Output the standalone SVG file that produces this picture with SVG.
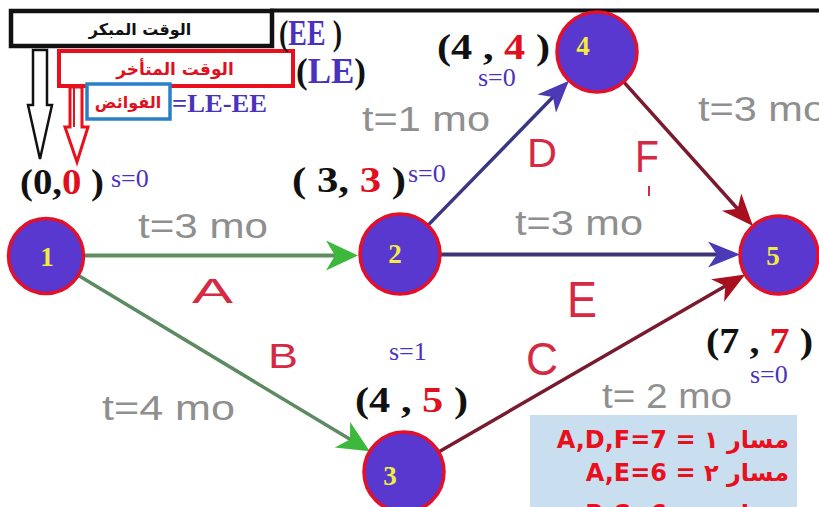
<svg xmlns="http://www.w3.org/2000/svg" width="819" height="507" viewBox="0 0 819 507">
<style>
.node{fill:#5838cf;stroke:#e2102a;stroke-width:3.5}
.nl{font-family:"Liberation Serif",serif;font-weight:bold;font-size:27px;fill:#f0ee3a;text-anchor:middle}
.co{font-family:"Liberation Serif",serif;font-weight:bold;font-size:36px;fill:#111}
.red{fill:#e01020}
.pur{fill:#4a32c0}
.s{font-family:"Liberation Serif",serif;font-size:26px;fill:#4a32c0}
.t{font-family:"Liberation Sans",sans-serif;font-size:35px;fill:#8f8f8f}
.L{font-family:"Liberation Sans",sans-serif;fill:#d42a44}
.ar{font-family:"DejaVu Sans",sans-serif;font-weight:bold;text-anchor:middle}
.info{font-family:"DejaVu Sans",sans-serif;font-weight:bold;font-size:24px;fill:#e8101c}
</style>
<defs>
<marker id="hg" markerUnits="userSpaceOnUse" markerWidth="34" markerHeight="32" refX="22" refY="15" orient="auto"><path d="M0,0 L32,15 L0,30 L9,15 Z" fill="#3cb83c"/></marker>
<marker id="hp" markerUnits="userSpaceOnUse" markerWidth="34" markerHeight="32" refX="22" refY="15" orient="auto"><path d="M0,2 L32,15 L0,28 L9,15 Z" fill="#4a3ab5"/></marker>
<marker id="hr" markerUnits="userSpaceOnUse" markerWidth="34" markerHeight="32" refX="22" refY="15" orient="auto"><path d="M0,2 L32,15 L0,28 L9,15 Z" fill="#a8101e"/></marker>
</defs>
<rect width="819" height="507" fill="#fff"/>

<g id="legend">
<line x1="270" y1="10.5" x2="819" y2="10.5" stroke="#111" stroke-width="4"/>
<rect x="11" y="11" width="261" height="35" fill="#fff" stroke="#111" stroke-width="4.5"/>
<text class="ar" x="140" y="35" font-size="16" fill="#111" direction="rtl">الوقت المبكر</text>
<rect x="59" y="51" width="234" height="35" fill="#fff" stroke="#e8101c" stroke-width="4"/>
<text class="ar" x="175" y="75" font-size="17" fill="#e01020" direction="rtl">الوقت المتأخر</text>
<rect x="87" y="84" width="83" height="35" fill="#fff" stroke="#2a80c8" stroke-width="3.5"/>
<text class="ar" x="128" y="108" font-size="16" fill="#e01020" direction="rtl">الفوائض</text>
<text x="172" y="112" font-family="Liberation Serif,serif" font-weight="bold" font-size="25" fill="#4a32c0" textLength="95" lengthAdjust="spacingAndGlyphs">=LE-EE</text>
<text x="279" y="45" class="co" font-size="31px" textLength="63" lengthAdjust="spacingAndGlyphs">(<tspan class="pur">EE</tspan> )</text>
<text x="296" y="83" class="co" font-size="35px" textLength="70" lengthAdjust="spacingAndGlyphs">(<tspan class="pur">LE</tspan>)</text>
<path d="M33,50 L47,50 L47,105 L52,105 L40,159 L28,105 L33,105 Z" fill="#fff" stroke="#111" stroke-width="2.5"/>
<path d="M70,87 L82,87 L82,127 L88,127 L77,162 L65,127 L70,127 Z" fill="#fff" stroke="#e8101c" stroke-width="3"/>
<line x1="74" y1="88" x2="74" y2="127" stroke="#e8101c" stroke-width="2"/>
</g>

<g id="connectors">
<line x1="84" y1="255.5" x2="348" y2="255.5" stroke="#5f8f5f" stroke-width="4" marker-end="url(#hg)"/>
<line x1="78.5" y1="275.6" x2="361.2" y2="446.1" stroke="#5d8a62" stroke-width="3.5" marker-end="url(#hg)"/>
<line x1="427.9" y1="225.4" x2="562" y2="87.8" stroke="#3a3585" stroke-width="3.5" marker-end="url(#hp)"/>
<line x1="440" y1="254.5" x2="730" y2="254.5" stroke="#3d3575" stroke-width="4" marker-end="url(#hp)"/>
<line x1="623.7" y1="81.8" x2="746.3" y2="218.5" stroke="#7a1a30" stroke-width="3.5" marker-end="url(#hr)"/>
<line x1="438.6" y1="452" x2="736.6" y2="279.5" stroke="#7a1a30" stroke-width="3.5" marker-end="url(#hr)"/>
</g>

<g id="edge-labels">
<text class="t" x="138" y="238" textLength="130" lengthAdjust="spacingAndGlyphs">t=3 mo</text>
<text class="t" x="102" y="420" textLength="133" lengthAdjust="spacingAndGlyphs">t=4 mo</text>
<text class="t" x="515" y="235" textLength="128" lengthAdjust="spacingAndGlyphs">t=3 mo</text>
<text class="t" x="602" y="408" textLength="130" lengthAdjust="spacingAndGlyphs">t= 2 mo</text>
<text class="t" x="362" y="131" textLength="128" lengthAdjust="spacingAndGlyphs">t=1 mo</text>
<text class="t" x="698" y="121" textLength="128" lengthAdjust="spacingAndGlyphs">t=3 mo</text>
<text class="L" x="192" y="303" font-size="35" textLength="41" lengthAdjust="spacingAndGlyphs">A</text>
<text class="L" x="268" y="368" font-size="35" textLength="30" lengthAdjust="spacingAndGlyphs">B</text>
<text class="L" x="527" y="167" font-size="40" textLength="30" lengthAdjust="spacingAndGlyphs">D</text>
<text class="L" x="635" y="172" font-size="44" textLength="24" lengthAdjust="spacingAndGlyphs">F</text>
<line x1="649" y1="186" x2="649" y2="196" stroke="#d42a44" stroke-width="2"/>
<text class="L" x="567" y="317" font-size="50" textLength="30" lengthAdjust="spacingAndGlyphs">E</text>
<text class="L" x="526" y="375" font-size="46" textLength="32" lengthAdjust="spacingAndGlyphs">C</text>
</g>

<g id="node1">
<circle class="node" cx="46" cy="256" r="37.5"/>
<text class="nl" x="47" y="266">1</text>
<text class="co" x="20" y="194" textLength="84" lengthAdjust="spacingAndGlyphs">(0,<tspan class="red">0</tspan> )</text>
<text class="s" x="111" y="187">s=0</text>
</g>
<g id="node2">
<circle class="node" cx="400" cy="254" r="40"/>
<text class="nl" x="395" y="263">2</text>
<text class="co" x="292" y="192" textLength="114" lengthAdjust="spacingAndGlyphs">( 3, <tspan class="red">3</tspan> )</text>
<text class="s" x="408" y="182" font-size="25px">s=0</text>
</g>
<g id="node3">
<circle class="node" cx="404" cy="472" r="40"/>
<text class="nl" x="390" y="485">3</text>
<text class="co" x="355" y="412" textLength="113" lengthAdjust="spacingAndGlyphs">(4 , <tspan class="red">5</tspan> )</text>
<text class="s" x="389" y="360" font-size="25px">s=1</text>
</g>
<g id="node4">
<circle class="node" cx="597" cy="52" r="40"/>
<text class="nl" x="583" y="55">4</text>
<text class="co" x="437" y="59" textLength="113" lengthAdjust="spacingAndGlyphs">(4 , <tspan class="red">4</tspan> )</text>
<text class="s" x="478" y="86" font-size="25px">s=0</text>
</g>
<g id="node5">
<circle class="node" cx="779" cy="255" r="39"/>
<text class="nl" x="773" y="265">5</text>
<text class="co" x="706" y="353" textLength="107" lengthAdjust="spacingAndGlyphs">(7 , <tspan class="red">7</tspan> )</text>
<text class="s" x="750" y="383" font-size="25px">s=0</text>
</g>

<g id="paths-box">
<rect x="530" y="415" width="267" height="92" fill="#c9dff0"/>
<text class="info" x="789" y="448" direction="rtl">مسار ١ = A,D,F=7</text>
<text class="info" x="789" y="481" direction="rtl">مسار ٢ = A,E=6</text>
<text class="info" x="789" y="522" direction="rtl">مسار ٣ = B,C=6</text>
</g>
</svg>
